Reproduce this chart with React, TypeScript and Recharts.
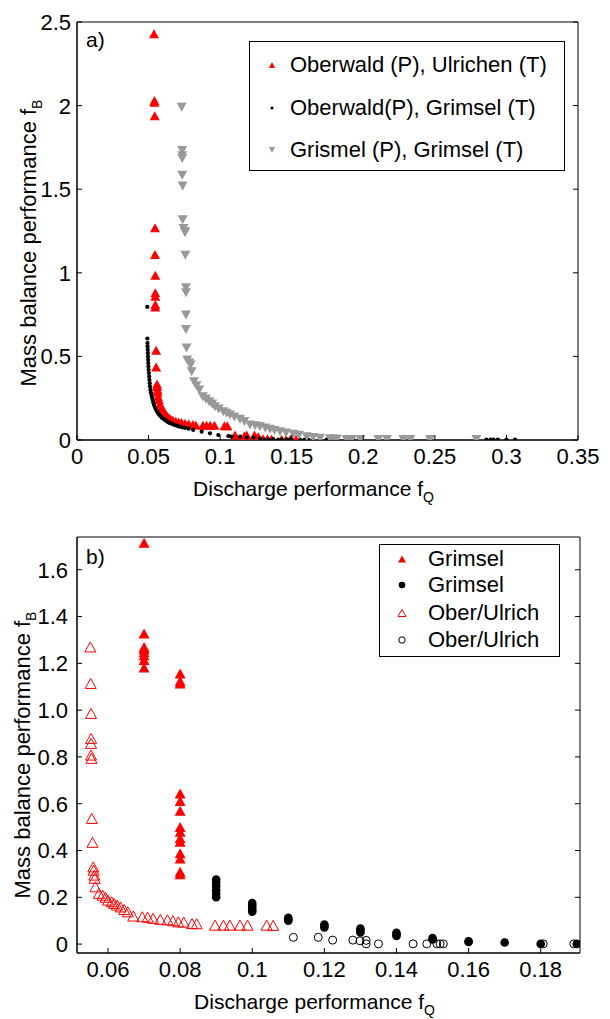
import React from 'react';
import { ScatterChart, Scatter, XAxis, YAxis, Legend } from 'recharts';

const FONT = '"Liberation Sans", Arial, Helvetica, sans-serif';
const RED = '#ff0000';
const GRAY = '#999999';

type Pt = [number, number];

// ---------- Panel a) ----------
const topXTicks = [0, 0.05, 0.1, 0.15, 0.2, 0.25, 0.3, 0.35];
const topYTicks = [0, 0.5, 1, 1.5, 2, 2.5];
const topLegendLabels = ['Oberwald (P), Ulrichen (T)', 'Oberwald(P), Grimsel (T)', 'Grismel (P), Grimsel (T)'];

// Oberwald (P), Ulrichen (T) : [fQ, fB]
const oberwaldUlrichen: Pt[] = [
  [0.0538, 2.43], [0.0541, 2.03], [0.0541, 2.02], [0.0543, 1.94], [0.0545, 1.27], [0.0545, 1.11],
  [0.0547, 0.985], [0.0547, 0.88], [0.0547, 0.86], [0.0547, 0.81], [0.0547, 0.795], [0.0553, 0.537],
  [0.0553, 0.437], [0.0559, 0.335], [0.056, 0.32], [0.0562, 0.3], [0.0563, 0.285], [0.0566, 0.26],
  [0.0572, 0.24], [0.058, 0.215], [0.059, 0.195], [0.06, 0.18], [0.0612, 0.165], [0.0625, 0.15],
  [0.064, 0.135], [0.0655, 0.125], [0.067, 0.118], [0.069, 0.112], [0.071, 0.108], [0.073, 0.105],
  [0.0755, 0.1], [0.078, 0.097], [0.081, 0.092], [0.083, 0.09], [0.088, 0.088], [0.0905, 0.088],
  [0.093, 0.088], [0.096, 0.088], [0.103, 0.085], [0.105, 0.085], [0.1104, 0.03], [0.117, 0.025],
  [0.1186, 0.03], [0.124, 0.03], [0.1267, 0.02], [0.13, 0.008], [0.133, 0.008], [0.136, 0.006],
  [0.143, 0.004], [0.146, 0.004], [0.149, 0.004], [0.153, 0.004], [0.188, 0.004], [0.19, 0.004], [0.193, 0.004],
];

// Oberwald(P), Grimsel (T)
const oberwaldGrimsel: Pt[] = [
  [0.0491, 0.796], [0.0491, 0.607], [0.0492, 0.58], [0.0493, 0.56], [0.0494, 0.54], [0.0495, 0.52],
  [0.0496, 0.5], [0.0497, 0.48], [0.0498, 0.46], [0.0499, 0.44], [0.05, 0.42], [0.0502, 0.4],
  [0.0504, 0.38], [0.0506, 0.36], [0.0508, 0.34], [0.051, 0.32], [0.0513, 0.3], [0.0516, 0.285],
  [0.052, 0.27], [0.0524, 0.255], [0.0528, 0.24], [0.0533, 0.225], [0.0538, 0.21], [0.0544, 0.197],
  [0.055, 0.185], [0.0557, 0.173], [0.0565, 0.162], [0.0573, 0.152], [0.0582, 0.143], [0.0592, 0.135],
  [0.0603, 0.127], [0.0615, 0.12], [0.0628, 0.112], [0.064, 0.105], [0.0655, 0.1], [0.067, 0.094],
  [0.0685, 0.089], [0.07, 0.085], [0.0715, 0.08], [0.0735, 0.076], [0.0755, 0.072], [0.078, 0.068],
  [0.0812, 0.06], [0.0871, 0.05], [0.0929, 0.04], [0.0987, 0.03], [0.1057, 0.024], [0.108, 0.02],
  [0.1139, 0.02], [0.1186, 0.015], [0.1232, 0.015], [0.1278, 0.01], [0.131, 0.003], [0.134, 0.003],
  [0.1371, 0.005], [0.1406, 0.003], [0.143, 0.003], [0.1465, 0.003], [0.1488, 0.003], [0.15, 0.003],
  [0.1558, 0.003], [0.159, 0.003], [0.1616, 0.003], [0.1744, 0.003], [0.1779, 0.003], [0.1814, 0.003],
  [0.1884, 0.003], [0.1907, 0.003], [0.193, 0.003], [0.1977, 0.003], [0.286, 0.003], [0.289, 0.003],
  [0.291, 0.003], [0.294, 0.003], [0.3, 0.003], [0.306, 0.003],
];

// Grismel (P), Grimsel (T)
const grismelGrimsel: Pt[] = [
  [0.0731, 1.99], [0.0735, 1.732], [0.0735, 1.7], [0.0735, 1.683], [0.0735, 1.583], [0.0738, 1.519],
  [0.0738, 1.318], [0.0745, 1.265], [0.0755, 1.245], [0.0755, 1.24], [0.0757, 1.105], [0.0761, 0.91],
  [0.0761, 0.88], [0.0761, 0.747], [0.0761, 0.661], [0.0765, 0.55], [0.077, 0.478], [0.0785, 0.46],
  [0.0794, 0.448], [0.0801, 0.408], [0.0817, 0.348], [0.0835, 0.325], [0.0854, 0.299], [0.0878, 0.259],
  [0.09, 0.245], [0.0924, 0.229], [0.0945, 0.215], [0.0964, 0.199], [0.099, 0.185], [0.1022, 0.169],
  [0.1045, 0.16], [0.1069, 0.149], [0.11, 0.137], [0.1139, 0.124], [0.117, 0.11], [0.1209, 0.09],
  [0.1245, 0.085], [0.1278, 0.08], [0.1315, 0.072], [0.1348, 0.064], [0.138, 0.057], [0.1418, 0.05],
  [0.146, 0.042], [0.1511, 0.034], [0.155, 0.028], [0.1605, 0.02], [0.165, 0.015], [0.1698, 0.01],
  [0.1768, 0.008], [0.18, 0.006], [0.1814, 0.004], [0.1884, 0.003], [0.192, 0.003], [0.198, 0.003],
  [0.2105, 0.003], [0.2165, 0.003], [0.228, 0.003], [0.2328, 0.003], [0.2466, 0.003], [0.279, 0.003],
];

// ---------- Panel b) ----------
const botXTicks = [0.06, 0.08, 0.1, 0.12, 0.14, 0.16, 0.18];
const botYTicks = [0, 0.2, 0.4, 0.6, 0.8, 1.0, 1.2, 1.4, 1.6];
const botLegendLabels = ['Grimsel', 'Grimsel', 'Ober/Ulrich', 'Ober/Ulrich'];

// Grimsel (filled triangles)
const grimselTri: Pt[] = [
  [0.07, 1.715], [0.07, 1.328], [0.07, 1.27], [0.07, 1.26], [0.07, 1.249], [0.07, 1.235],
  [0.07, 1.214], [0.07, 1.182], [0.08, 1.157], [0.08, 1.125], [0.08, 1.114], [0.08, 0.644],
  [0.08, 0.612], [0.08, 0.57], [0.08, 0.501], [0.08, 0.48], [0.08, 0.452], [0.08, 0.437],
  [0.08, 0.388], [0.08, 0.366], [0.08, 0.309], [0.08, 0.299],
];

// Grimsel (filled circles)
const grimselCirc: Pt[] = [
  [0.09, 0.276], [0.09, 0.262], [0.09, 0.248], [0.09, 0.23], [0.09, 0.215], [0.09, 0.2],
  [0.1, 0.176], [0.1, 0.165], [0.1, 0.155], [0.1, 0.145], [0.1, 0.138], [0.11, 0.112],
  [0.11, 0.106], [0.11, 0.1], [0.12, 0.084], [0.12, 0.078], [0.12, 0.071], [0.13, 0.067],
  [0.13, 0.058], [0.13, 0.05], [0.14, 0.048], [0.14, 0.041], [0.14, 0.035], [0.15, 0.026],
  [0.15, 0.02], [0.16, 0.012], [0.16, 0.009], [0.17, 0.007], [0.18, 0.001], [0.19, 0.001],
];

// Ober/Ulrich (open triangles)
const oberTri: Pt[] = [
  [0.0551, 1.27], [0.0552, 1.114], [0.0553, 0.986], [0.0553, 0.879], [0.0553, 0.858], [0.0553, 0.808],
  [0.0554, 0.794], [0.0555, 0.537], [0.0557, 0.435], [0.0559, 0.33], [0.056, 0.316], [0.0562, 0.295],
  [0.0563, 0.281], [0.0565, 0.245], [0.0575, 0.217], [0.0585, 0.209], [0.0593, 0.2], [0.06, 0.188],
  [0.061, 0.181], [0.0617, 0.174], [0.0625, 0.167], [0.0635, 0.159], [0.0645, 0.148], [0.0655, 0.138],
  [0.067, 0.12], [0.0695, 0.117], [0.071, 0.115], [0.0725, 0.11], [0.0745, 0.106], [0.0765, 0.104],
  [0.078, 0.1], [0.0795, 0.095], [0.081, 0.094], [0.0833, 0.088], [0.0846, 0.087], [0.0897, 0.081],
  [0.092, 0.081], [0.0938, 0.081], [0.0966, 0.081], [0.0987, 0.081], [0.104, 0.081], [0.1058, 0.08],
];

// Ober/Ulrich (open circles)
const oberCirc: Pt[] = [
  [0.1114, 0.029], [0.1183, 0.029], [0.1223, 0.017], [0.1279, 0.017], [0.1299, 0.014], [0.1316, 0.016],
  [0.1316, 0.001], [0.135, 0.001], [0.1446, 0.001], [0.1484, 0.001], [0.1512, 0.001], [0.1521, 0.001],
  [0.153, 0.001], [0.1807, 0.001], [0.1892, 0.001],
];

const toObj = (arr: Pt[]) => arr.map(([x, y]) => ({ x, y }));

// ---------- marker paths ----------
const triUp = (cx: number, cy: number, w: number, h: number) =>
  `M${cx},${cy - h / 2}L${cx + w / 2},${cy + h / 2}L${cx - w / 2},${cy + h / 2}Z`;
const triDown = (cx: number, cy: number, w: number, h: number) =>
  `M${cx},${cy + h / 2}L${cx + w / 2},${cy - h / 2}L${cx - w / 2},${cy - h / 2}Z`;

const shapeRedTriSmall = (p: any) => <path d={triUp(p.cx, p.cy, 10, 9)} fill={RED} />;
const shapeBlackDot = (p: any) => <circle cx={p.cx} cy={p.cy} r={2.1} fill="#000" />;
const shapeGrayTriDown = (p: any) => <path d={triDown(p.cx, p.cy, 10, 9)} fill={GRAY} />;
const shapeRedTri = (p: any) => <path d={triUp(p.cx, p.cy, 11, 10)} fill={RED} />;
const shapeBlackCirc = (p: any) => <circle cx={p.cx} cy={p.cy} r={4.3} fill="#000" />;
const shapeOpenTri = (p: any) => <path d={triUp(p.cx, p.cy, 11, 10)} fill="none" stroke={RED} strokeWidth={1} />;
const shapeOpenCirc = (p: any) => <circle cx={p.cx} cy={p.cy} r={4} fill="none" stroke="#000" strokeWidth={1} />;

// ---------- ticks ----------
const TICK_FS = 22;
const TL = 5;
const fmtPlain = (v: number) => String(v);
const fmtOneDec = (v: number) => (v === 0 ? '0' : v.toFixed(1));

const mkBottomTick = (fmt: (v: number) => string) => (p: any) => (
  <g>
    <line x1={p.x} y1={p.y} x2={p.x} y2={p.y - TL} stroke="#000" strokeWidth={1} />
    <text x={p.x} y={p.y + 24} textAnchor="middle" fontSize={TICK_FS} fontFamily={FONT} fill="#000">
      {fmt(p.payload.value)}
    </text>
  </g>
);
const mkLeftTick = (fmt: (v: number) => string, gap: number) => (p: any) => (
  <g>
    <line x1={p.x} y1={p.y} x2={p.x + TL} y2={p.y} stroke="#000" strokeWidth={1} />
    <text x={p.x - gap} y={p.y} dy="0.36em" textAnchor="end" fontSize={TICK_FS} fontFamily={FONT} fill="#000">
      {fmt(p.payload.value)}
    </text>
  </g>
);
const topTick = (p: any) => <line x1={p.x} y1={p.y} x2={p.x} y2={p.y + TL} stroke="#000" strokeWidth={1} />;
const rightTick = (p: any) => <line x1={p.x} y1={p.y} x2={p.x - TL} y2={p.y} stroke="#000" strokeWidth={1} />;

// ---------- axis titles ----------
const xTitle = (fb: any) => (p: any) => {
  const vb = (p && p.viewBox) || fb;
  return (
    <text x={vb.x + vb.width / 2 - 14} y={vb.y + 56} textAnchor="middle" fontSize={21} fontFamily={FONT} fill="#000">
      Discharge performance f
      <tspan dy={6} fontSize={14}>Q</tspan>
    </text>
  );
};
const yTitle = (fb: any, base: number, shift: number) => (p: any) => {
  const vb = (p && p.viewBox) || fb;
  const cx = vb.x + base;
  const cy = vb.y + vb.height / 2 + shift;
  return (
    <text x={cx} y={cy} transform={`rotate(-90, ${cx}, ${cy})`} textAnchor="middle" fontSize={22} fontFamily={FONT} fill="#000">
      Mass balance performance f
      <tspan dy={6} fontSize={14}>B</tspan>
    </text>
  );
};
const panelTag = (tag: string, fb: any, dy: number) => (p: any) => {
  const vb = (p && p.viewBox) || fb;
  return (
    <text x={vb.x + 9} y={vb.y + vb.height + dy} fontSize={21} fontFamily={FONT} fill="#000">
      {tag}
    </text>
  );
};

// ---------- legends ----------
const TopLegend = () => {
  const rows = [24, 67, 109];
  const markers = [
    <path key="a" d={triUp(23, 15, 6, 6)} fill={RED} />,
    <circle key="b" cx={23} cy={15} r={1.6} fill="#000" />,
    <path key="c" d={triDown(23, 15, 6, 6)} fill={GRAY} />,
  ];
  return (
    <div style={{ position: 'relative', width: 316, height: 130, border: '1px solid #000', boxSizing: 'border-box', background: '#fff', fontFamily: FONT, fontSize: 22, color: '#000' }}>
      {topLegendLabels.map((lab, i) => (
        <div key={i} style={{ position: 'absolute', left: -1, top: rows[i] - 16, height: 30, display: 'flex', alignItems: 'center', whiteSpace: 'nowrap' }}>
          <svg width={41} height={30} style={{ display: 'block' }}>{markers[i]}</svg>
          <span style={{ lineHeight: '30px' }}>{lab}</span>
        </div>
      ))}
    </div>
  );
};

const BotLegend = () => {
  const rows = [15, 41, 69, 96];
  const markers = [
    <path key="a" d={triUp(23, 15, 8, 7)} fill={RED} />,
    <circle key="b" cx={23} cy={15} r={3.3} fill="#000" />,
    <path key="c" d={triUp(23, 15, 8, 7)} fill="none" stroke={RED} strokeWidth={1} />,
    <circle key="d" cx={23} cy={15} r={3.2} fill="none" stroke="#000" strokeWidth={1} />,
  ];
  return (
    <div style={{ position: 'relative', width: 181, height: 113, border: '1px solid #000', boxSizing: 'border-box', background: '#fff', fontFamily: FONT, fontSize: 22, color: '#000' }}>
      {botLegendLabels.map((lab, i) => (
        <div key={i} style={{ position: 'absolute', left: -1, top: rows[i] - 16, height: 30, display: 'flex', alignItems: 'center', whiteSpace: 'nowrap' }}>
          <svg width={49} height={30} style={{ display: 'block' }}>{markers[i]}</svg>
          <span style={{ lineHeight: '30px' }}>{lab}</span>
        </div>
      ))}
    </div>
  );
};

const axisLineMain = { stroke: '#000', strokeWidth: 1.5 };
const axisLineThin = { stroke: '#000', strokeWidth: 1 };

export default function App() {
  return (
    <div style={{ position: 'absolute', left: 0, top: 0, width: 610, height: 1019, background: '#fff' }}>
      <div style={{ position: 'absolute', left: 0, top: 0 }}>
        <ScatterChart width={610} height={510} margin={{ top: 21, right: 31, bottom: 40, left: 0 }}>
          <XAxis type="number" dataKey="x" domain={[0, 0.35]} ticks={topXTicks} interval={0} allowDataOverflow
            height={30} tickSize={0} tickMargin={0} tickLine={false} tick={mkBottomTick(fmtPlain)} axisLine={axisLineMain}
            label={{ content: xTitle({ x: 77, y: 440, width: 501, height: 30 }) }} />
          <XAxis xAxisId="top" orientation="top" type="number" domain={[0, 0.35]} ticks={topXTicks} interval={0} allowDataOverflow
            height={1} tickSize={0} tickMargin={0} tickLine={false} tick={topTick} axisLine={axisLineThin}
            label={{ content: panelTag('a)', { x: 77, y: 21, width: 501, height: 1 }, 25) }} />
          <YAxis type="number" dataKey="y" domain={[0, 2.5]} ticks={topYTicks} interval={0} allowDataOverflow
            width={77} tickSize={0} tickMargin={0} tickLine={false} tick={mkLeftTick(fmtPlain, 6)} axisLine={axisLineMain}
            label={{ content: yTitle({ x: 0, y: 22, width: 77, height: 418 }, 36, 12) }} />
          <YAxis yAxisId="right" orientation="right" type="number" domain={[0, 2.5]} ticks={topYTicks} interval={0} allowDataOverflow
            width={1} tickSize={0} tickMargin={0} tickLine={false} tick={rightTick} axisLine={axisLineThin} />
          <Scatter name={topLegendLabels[0]} data={toObj(oberwaldUlrichen)} shape={shapeRedTriSmall} isAnimationActive={false} />
          <Scatter name={topLegendLabels[1]} data={toObj(oberwaldGrimsel)} shape={shapeBlackDot} isAnimationActive={false} />
          <Scatter name={topLegendLabels[2]} data={toObj(grismelGrimsel)} shape={shapeGrayTriDown} isAnimationActive={false} />
          <Legend layout="vertical" verticalAlign="middle" align="center"
            wrapperStyle={{ position: 'absolute', left: 249, top: 41, width: 316, height: 130 }}
            content={() => <TopLegend />} />
        </ScatterChart>
      </div>
      <div style={{ position: 'absolute', left: 0, top: 510 }}>
        <ScatterChart width={610} height={509} margin={{ top: 26, right: 29, bottom: 36, left: 0 }}>
          <XAxis type="number" dataKey="x" domain={[0.0514, 0.1909]} ticks={botXTicks} interval={0} allowDataOverflow
            height={30} tickSize={0} tickMargin={0} tickLine={false} tick={mkBottomTick(fmtPlain)} axisLine={axisLineMain}
            label={{ content: xTitle({ x: 77, y: 443, width: 503, height: 30 }) }} />
          <XAxis xAxisId="top" orientation="top" type="number" domain={[0.0514, 0.1909]} ticks={botXTicks} interval={0} allowDataOverflow
            height={1} tickSize={0} tickMargin={0} tickLine={false} tick={topTick} axisLine={axisLineThin}
            label={{ content: panelTag('b)', { x: 77, y: 26, width: 503, height: 1 }, 27) }} />
          <YAxis type="number" dataKey="y" domain={[-0.038, 1.74]} ticks={botYTicks} interval={0} allowDataOverflow
            width={77} tickSize={0} tickMargin={0} tickLine={false} tick={mkLeftTick(fmtOneDec, 9)} axisLine={axisLineMain}
            label={{ content: yTitle({ x: 0, y: 27, width: 77, height: 416 }, 30, 10) }} />
          <YAxis yAxisId="right" orientation="right" type="number" domain={[-0.038, 1.74]} ticks={botYTicks} interval={0} allowDataOverflow
            width={1} tickSize={0} tickMargin={0} tickLine={false} tick={rightTick} axisLine={axisLineThin} />
          <Scatter name="Grimsel" data={toObj(grimselTri)} shape={shapeRedTri} isAnimationActive={false} />
          <Scatter name="Grimsel " data={toObj(grimselCirc)} shape={shapeBlackCirc} isAnimationActive={false} />
          <Scatter name="Ober/Ulrich" data={toObj(oberTri)} shape={shapeOpenTri} isAnimationActive={false} />
          <Scatter name="Ober/Ulrich " data={toObj(oberCirc)} shape={shapeOpenCirc} isAnimationActive={false} />
          <Legend layout="vertical" verticalAlign="middle" align="center"
            wrapperStyle={{ position: 'absolute', left: 379, top: 34, width: 181, height: 113 }}
            content={() => <BotLegend />} />
        </ScatterChart>
      </div>
    </div>
  );
}
